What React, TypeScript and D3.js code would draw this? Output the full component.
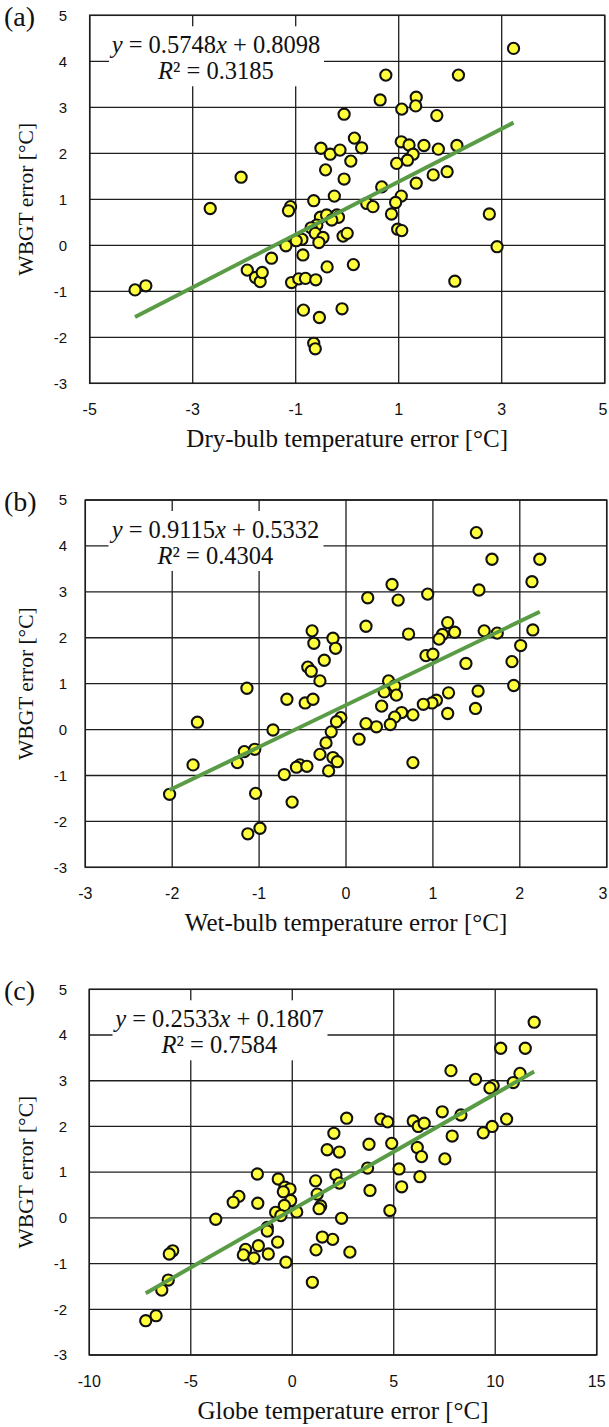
import React from "react";
import * as d3 from "d3";

// ---------- DATA ----------
const yTicks = [-3, -2, -1, 0, 1, 2, 3, 4, 5];

// (a) Dry-bulb temperature error vs WBGT error
const aXTicks = [-5, -3, -1, 1, 3, 5];
const aX = [
  -0.06, -0.51, -0.33, -0.14, 0.07, -0.42, -0.06, -2.06, -0.65, -0.25,
  -2.66, -1.1, -1.14, -0.52, -0.4, -0.2, -0.17, -0.3, -0.59, -0.7,
  -0.62, -0.47, -0.55, -0.88, -0.99, -0.08, 0.0, -1.19, -0.86, -1.47,
  -1.94, -1.78, -1.69, -1.65, -0.39, 0.12, -1.08, -0.94, -0.81, -0.61,
  -4.12, -3.91, -0.85, -0.54, -0.1, -0.65, -0.62, 3.23, 0.75, 2.16,
  0.64, 1.34, 1.33, 1.06, 1.74, 0.14, 0.28, 1.05, 1.2, 1.49,
  1.77, 2.13, 1.28, 1.17, 0.96, 1.67, 1.94, 1.34, 0.67, 1.05,
  0.94, 0.38, 0.5, 0.86, 2.76, 0.98, 1.06, 2.91, 2.09,
];
const aY = [
  2.85, 2.11, 1.98, 2.07, 1.83, 1.64, 1.44, 1.48, 0.97, 1.07,
  0.8, 0.84, 0.75, 0.61, 0.66, 0.66, 0.61, 0.55, 0.44, 0.38,
  0.26, 0.17, 0.06, 0.13, 0.1, 0.2, 0.26, -0.01, -0.21, -0.28,
  -0.54, -0.7, -0.79, -0.59, -0.47, -0.42, -0.81, -0.73, -0.72, -0.75,
  -0.97, -0.88, -1.41, -1.57, -1.38, -2.13, -2.25, 4.28, 3.7, 3.7,
  3.16, 3.22, 3.03, 2.96, 2.82, 2.33, 2.12, 2.25, 2.18, 2.17,
  2.09, 2.17, 1.98, 1.85, 1.78, 1.53, 1.6, 1.35, 1.27, 1.07,
  0.93, 0.91, 0.84, 0.68, 0.68, 0.35, 0.32, -0.03, -0.78,
];

// (b) Wet-bulb temperature error vs WBGT error
const bXTicks = [-3, -2, -1, 0, 1, 2, 3];
const bX = [
  -0.39, -0.37, -0.15, -0.12, -0.25, -0.44, -0.4, -0.3, -1.14, -0.68,
  -0.47, -0.38, -1.71, -0.84, -0.06, -0.11, -0.17, -0.23, -0.3, -0.15,
  -0.1, -0.2, -0.53, -0.57, -0.45, -0.71, -1.17, -1.05, -1.25, -1.76,
  -2.03, -1.04, -0.62, -1.13, -0.99, 1.5, 1.68, 2.23, 2.14, 1.53,
  0.53, 0.25, 0.6, 0.94, 0.23, 0.72, 1.17, 1.11, 1.07, 1.25,
  1.59, 1.74, 2.15, 2.01, 1.91, 1.38, 0.92, 1.0, 0.49, 0.56,
  1.93, 1.52, 1.18, 1.49, 1.17, 1.04, 0.99, 0.89, 0.77, 0.64,
  0.56, 0.51, 0.41, 0.44, 0.58, 0.35, 0.23, 0.15, 0.77,
];
const bY = [
  2.15, 1.88, 1.99, 1.77, 1.51, 1.36, 1.27, 1.06, 0.9, 0.66,
  0.58, 0.66, 0.16, -0.01, 0.26, 0.17, -0.05, -0.29, -0.54, -0.61,
  -0.7, -0.9, -0.77, -0.82, -0.8, -0.98, -0.48, -0.43, -0.72, -0.77,
  -1.41, -1.39, -1.58, -2.27, -2.15, 4.29, 3.71, 3.71, 3.22, 3.04,
  3.16, 2.87, 2.82, 2.95, 2.25, 2.08, 2.33, 2.07, 1.97, 2.12,
  2.15, 2.1, 2.17, 1.83, 1.48, 1.44, 1.61, 1.64, 1.06, 0.95,
  0.96, 0.84, 0.8, 0.46, 0.35, 0.64, 0.58, 0.55, 0.32, 0.37,
  0.27, 0.11, 0.51, 0.82, 0.75, 0.06, 0.13, -0.21, -0.72,
];

// (c) Globe temperature error vs WBGT error
const cXTicks = [-10, -5, 0, 5, 10, 15];
const cX = [
  2.68, 2.05, 1.72, 2.32, 11.92, 10.27, 11.48, 7.82, 9.03, 11.22,
  10.89, 9.9, 9.74, 7.39, 8.31, 10.56, 9.85, 9.41, 7.88, 4.37,
  4.7, 5.96, 6.21, 6.5, 3.78, 4.9, 6.16, 6.37, 7.52, 5.26,
  6.29, 5.39, 3.71, 3.83, 4.81, 2.15, 2.32, 2.43, 1.99, 2.84,
  -1.72, -0.69, -0.36, -0.11, -0.44, 1.15, 1.23, -2.63, -2.91, -1.7,
  -0.08, -0.39, 0.22, -0.82, -0.56, 1.4, 1.32, -3.77, -1.23, -1.23,
  1.48, -0.72, -1.67, -2.3, -2.41, -1.89, -1.18, -0.31, 1.17, 0.99,
  -5.89, -6.06, -6.11, -6.43, -6.71, -7.22,
];
const cY = [
  2.18, 1.85, 1.49, 1.44, 4.28, 3.71, 3.71, 3.22, 3.03, 3.16,
  2.96, 2.89, 2.84, 2.32, 2.25, 2.16, 2.0, 1.86, 1.79, 2.16,
  2.1, 2.12, 2.0, 2.07, 1.61, 1.63, 1.54, 1.34, 1.29, 1.07,
  0.9, 0.68, 1.09, 0.6, 0.16, 0.94, 0.76, -0.01, -0.47, -0.75,
  0.96, 0.85, 0.67, 0.63, 0.57, 0.81, 0.52, 0.47, 0.34, 0.32,
  0.38, 0.27, 0.13, 0.12, 0.05, 0.26, 0.2, -0.03, -0.21, -0.29,
  -0.42, -0.53, -0.61, -0.69, -0.81, -0.88, -0.79, -0.97, -0.7, -1.41,
  -0.72, -0.79, -1.36, -1.58, -2.14, -2.25,
];

const slopes = [0.5748, 0.9115, 0.2533];
const intercepts = [0.8098, 0.5332, 0.1807];
const slopeLabels = ["0.5748", "0.9115", "0.2533"];
const interceptLabels = ["0.8098", "0.5332", "0.1807"];
const r2Labels = ["0.3185", "0.4304", "0.7584"];
const panelLabels = ["(a)", "(b)", "(c)"];
const xTitles = [
  "Dry-bulb temperature error [°C]",
  "Wet-bulb temperature error [°C]",
  "Globe temperature error [°C]",
];
const yTitle = "WBGT error [°C]";

// ---------- LAYOUT ----------
const layouts = [
  { left: 89.7, right: 604.7, top: 15.3, bottom: 383.3, eqCx: 216 },
  { left: 85.3, right: 606.7, top: 500, bottom: 867.3, eqCx: 215.5 },
  { left: 89.3, right: 596.7, top: 989.3, bottom: 1355, eqCx: 219.5 },
];

const SERIF = "'Liberation Serif', 'Times New Roman', serif";
const SANS = "'Liberation Sans', Arial, sans-serif";
const GRID = "#1e1e1e";

function Panel({ idx, xs, ys, xTicks }: { idx: number; xs: number[]; ys: number[]; xTicks: number[] }) {
  const L = layouts[idx];
  const xDomain = d3.extent(xTicks) as [number, number];
  const x = d3.scaleLinear().domain(xDomain).range([L.left, L.right]);
  const y = d3.scaleLinear().domain([-3, 5]).range([L.bottom, L.top]);
  const pts = xs.map((v, i) => [v, ys[i]] as [number, number]);
  const [xmin, xmax] = d3.extent(xs) as [number, number];
  const line = d3
    .line<number>()
    .x((d) => x(d))
    .y((d) => y(slopes[idx] * d + intercepts[idx]));
  const eqTop = L.top + 11;
  const eqBottom = L.top + 71;
  return (
    <g>
      {/* grid */}
      {yTicks.map((t) => (
        <line key={"h" + t} x1={L.left} x2={L.right} y1={y(t)} y2={y(t)} stroke={GRID} strokeWidth={1.3} />
      ))}
      {xTicks.map((t) => (
        <line key={"v" + t} x1={x(t)} x2={x(t)} y1={L.top} y2={L.bottom} stroke={GRID} strokeWidth={1.3} />
      ))}
      <rect x={L.left} y={L.top} width={L.right - L.left} height={L.bottom - L.top} fill="none" stroke={GRID} strokeWidth={1.5} />
      {/* equation box */}
      <rect x={L.eqCx - 107} y={eqTop} width={215} height={eqBottom - eqTop} fill="#fff" />
      <text x={L.eqCx} y={L.top + 37.5} textAnchor="middle" fontFamily={SERIF} fontSize={24.5} fill="#111">
        <tspan fontStyle="italic">y</tspan>
        {" = " + slopeLabels[idx]}
        <tspan fontStyle="italic">x</tspan>
        {" + " + interceptLabels[idx]}
      </text>
      <text x={L.eqCx} y={L.top + 64} textAnchor="middle" fontFamily={SERIF} fontSize={24.5} fill="#111">
        <tspan fontStyle="italic">R</tspan>
        {"² = " + r2Labels[idx]}
      </text>
      {/* points */}
      {pts.map((p, i) => (
        <circle key={i} cx={x(p[0])} cy={y(p[1])} r={5.6} fill="#ffff3c" stroke="#111" strokeWidth={2.1} />
      ))}
      {/* trend line */}
      <path d={line([xmin, xmax]) || ""} stroke="#5a9c46" strokeWidth={4} fill="none" />
      {/* ticks */}
      {yTicks.map((t) => (
        <text key={"yt" + t} x={67} y={y(t)} dy="0.35em" textAnchor="end" fontFamily={SANS} fontSize={15} fill="#111">
          {String(t)}
        </text>
      ))}
      {xTicks.map((t) => (
        <text key={"xt" + t} x={Math.min(x(t), 603)} y={L.bottom + 32} textAnchor="middle" fontFamily={SANS} fontSize={16} fill="#111">
          {String(t)}
        </text>
      ))}
      {/* titles */}
      <text x={(L.left + L.right) / 2} y={L.bottom + 64} textAnchor="middle" fontFamily={SERIF} fontSize={25} fill="#111">
        {xTitles[idx]}
      </text>
      <text
        transform={`translate(25,${(L.top + L.bottom) / 2}) rotate(-90)`}
        textAnchor="middle"
        dy="0.35em"
        fontFamily={SERIF}
        fontSize={21.5}
        fill="#111"
      >
        {yTitle}
      </text>
      <text x={4} y={L.top + 11} fontFamily={SERIF} fontSize={28} fill="#111">
        {panelLabels[idx]}
      </text>
    </g>
  );
}

export default function App() {
  return (
    <svg
      width={609}
      height={1427}
      viewBox="0 0 609 1427"
      style={{ position: "absolute", left: 0, top: 0, background: "#fff" }}
    >
      <rect x={0} y={0} width={609} height={1427} fill="#fff" />
      <Panel idx={0} xs={aX} ys={aY} xTicks={aXTicks} />
      <Panel idx={1} xs={bX} ys={bY} xTicks={bXTicks} />
      <Panel idx={2} xs={cX} ys={cY} xTicks={cXTicks} />
    </svg>
  );
}
